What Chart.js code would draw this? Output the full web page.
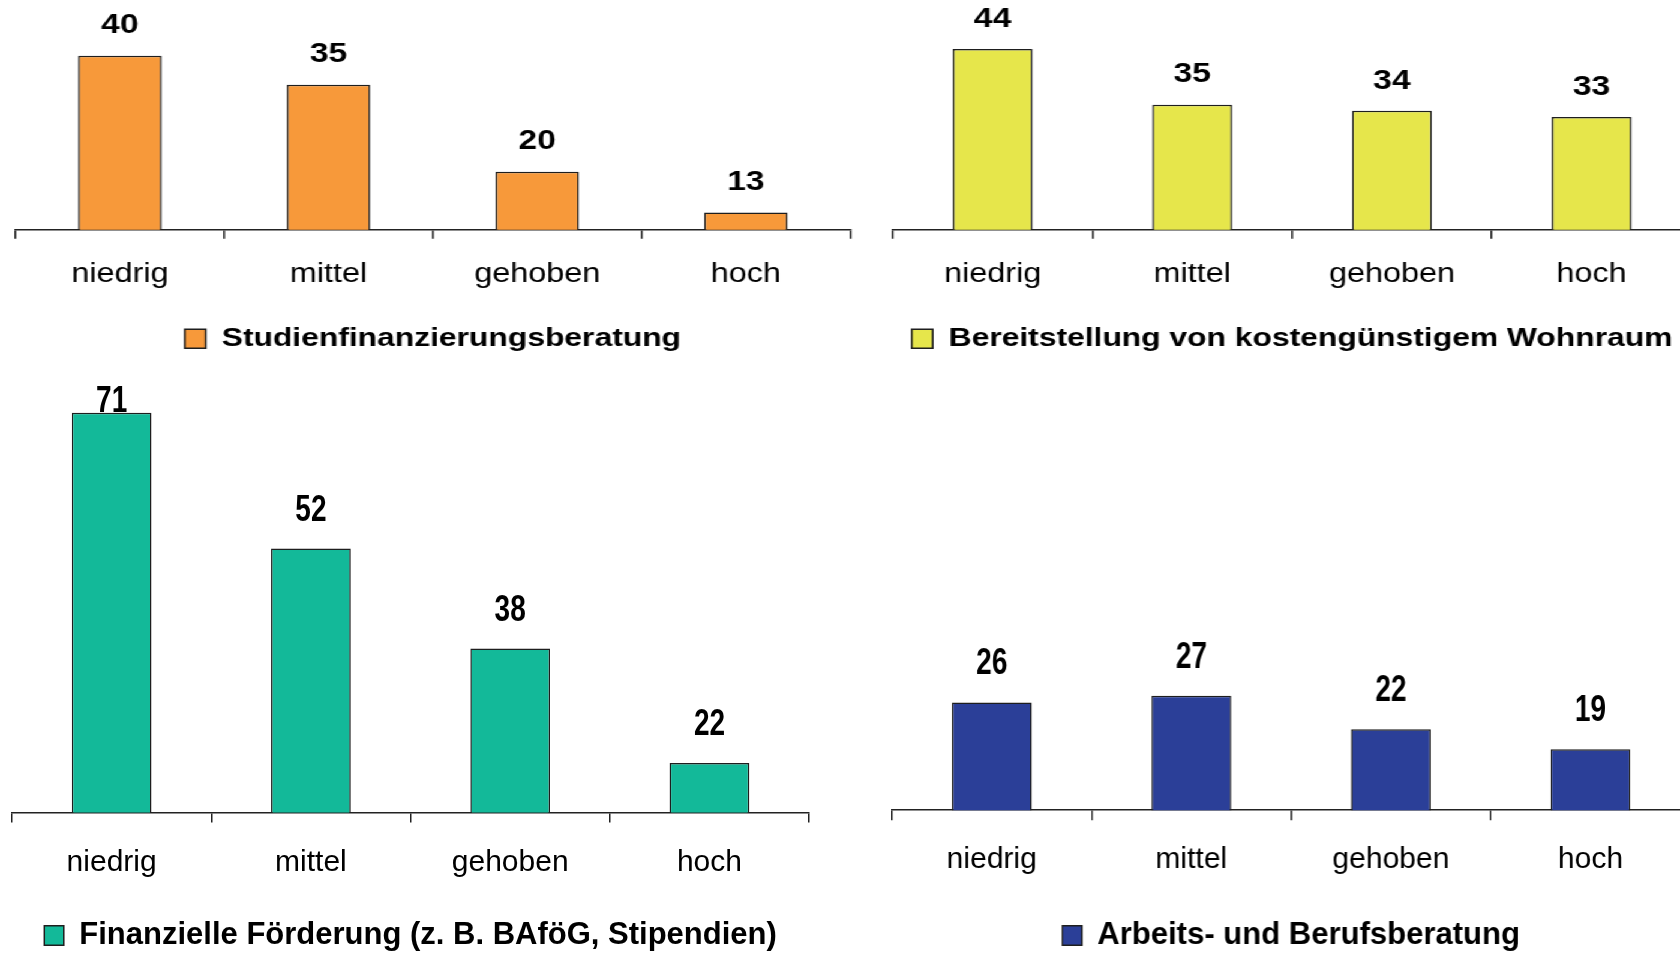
<!DOCTYPE html>
<html>
<head>
<meta charset="utf-8">
<script src="https://cdn.jsdelivr.net/npm/chart.js@4.4.1/dist/chart.umd.min.js"></script>
<style>
  html, body { margin: 0; padding: 0; background: #fff; width: 1680px; height: 953px; overflow: hidden; }
  .row-top { position: absolute; left: 0; top: 0; width: 1400px; height: 365px; transform: scaleX(1.2); transform-origin: 0 0; }
  .box { position: absolute; }
  #tl { left: 8.8px; top: 0; width: 703.5px; height: 362px; }
  #tr { left: 739.7px; top: 0; width: 673.5px; height: 362px; }
  #bl { left: 8px; top: 370px; width: 805.1px; height: 591px; }
  #br { left: 888.4px; top: 370px; width: 805.2px; height: 591px; }
</style>
</head>
<body>
<div class="row-top">
  <div class="box" id="tl"><canvas id="chartTL"></canvas></div>
  <div class="box" id="tr"><canvas id="chartTR"></canvas></div>
</div>
<div class="box" id="bl"><canvas id="chartBL"></canvas></div>
<div class="box" id="br"><canvas id="chartBR"></canvas></div>

<script>
var categories = ['niedrig', 'mittel', 'gehoben', 'hoch'];

var studienfinanzierung = [40, 35, 20, 13];
var wohnraum = [44, 35, 34, 33];
var foerderung = [71, 52, 38, 22];
var berufsberatung = [26, 27, 22, 19];

var seriesNames = [
  'Studienfinanzierungsberatung',
  'Bereitstellung von kostengünstigem Wohnraum',
  'Finanzielle Förderung (z. B. BAföG, Stipendien)',
  'Arbeits- und Berufsberatung'
];

Chart.defaults.font.family = '"Liberation Sans", Arial, sans-serif';
Chart.defaults.color = '#000';

// draws the numbers above the bars
var valueLabels = {
  id: 'valueLabels',
  afterDatasetsDraw: function (chart, args, opts) {
    var ctx = chart.ctx;
    var meta = chart.getDatasetMeta(0);
    var values = chart.data.datasets[0].data;
    ctx.save();
    ctx.font = 'bold ' + opts.size + 'px "Liberation Sans", Arial, sans-serif';
    ctx.fillStyle = '#000';
    ctx.textAlign = 'center';
    ctx.textBaseline = 'middle';
    meta.data.forEach(function (bar, i) {
      var y = Math.max(bar.y - opts.offset, chart.chartArea.top + opts.minTop);
      ctx.save();
      ctx.translate(bar.x, y);
      ctx.scale(1, opts.stretch);
      ctx.fillText(values[i], 0, 0);
      ctx.restore();
    });
    ctx.restore();
  }
};

function makeChart(id, values, name, color, s) {
  var ctx = document.getElementById(id).getContext('2d');
  return new Chart(ctx, {
    type: 'bar',
    data: {
      labels: categories,
      datasets: [{
        label: name,
        data: values,
        backgroundColor: color,
        borderColor: '#1e1e1e',
        borderWidth: 1.5,
        barPercentage: 0.4,
        categoryPercentage: 1
      }]
    },
    options: {
      responsive: true,
      maintainAspectRatio: false,
      animation: false,
      layout: { padding: { left: 4, right: 4, top: 0, bottom: 0 } },
      scales: {
        x: {
          offset: true,
          grid: { offset: true, drawOnChartArea: false, drawTicks: true, tickLength: s.tick, color: '#222', lineWidth: 1.5 },
          border: { display: true, color: '#222', width: 1.5 },
          ticks: { color: '#000', font: { size: s.tickFont }, padding: s.tickPad, maxRotation: 0, autoSkip: false },
          afterFit: function (scale) { scale.height = s.axisHeight; }
        },
        y: { display: false, min: s.min, max: s.max }
      },
      plugins: {
        legend: {
          position: 'bottom',
          labels: {
            color: '#000',
            boxWidth: s.boxW,
            boxHeight: s.boxH,
            padding: 10,
            font: { size: s.legendFont, weight: 'bold' }
          }
        },
        tooltip: { enabled: false },
        valueLabels: { size: s.labelFont, offset: s.labelOffset, minTop: s.minTop, stretch: s.stretch }
      }
    },
    plugins: [valueLabels]
  });
}

var topStyle = { tick: 9, tickFont: 27, tickPad: 20, axisHeight: 85.7, boxW: 17.5, boxH: 19, legendFont: 26.5,
  labelFont: 28, labelOffset: 30, minTop: 14, stretch: 1 };
var bottomStyle = { tick: 10, tickFont: 30, tickPad: 22, boxW: 19.5, boxH: 19.7, legendFont: 31,
  labelFont: 28, labelOffset: 38, minTop: 31.6, stretch: 1.29 };

makeChart('chartTL', studienfinanzierung, seriesNames[0], '#F7993A', Object.assign({}, topStyle, { min: 10, max: 49.6 }));
makeChart('chartTR', wohnraum, seriesNames[1], '#E6E64B', Object.assign({}, topStyle, { min: 14.8, max: 51.9 }));
makeChart('chartBL', foerderung, seriesNames[2], '#13B999', Object.assign({}, bottomStyle, { min: 15.07, max: 77.0, axisHeight: 97.6 }));
makeChart('chartBR', berufsberatung, seriesNames[3], '#2B3F98', Object.assign({}, bottomStyle, { min: 9.89, max: 75.7, axisHeight: 99.8 }));
</script>
</body>
</html>
